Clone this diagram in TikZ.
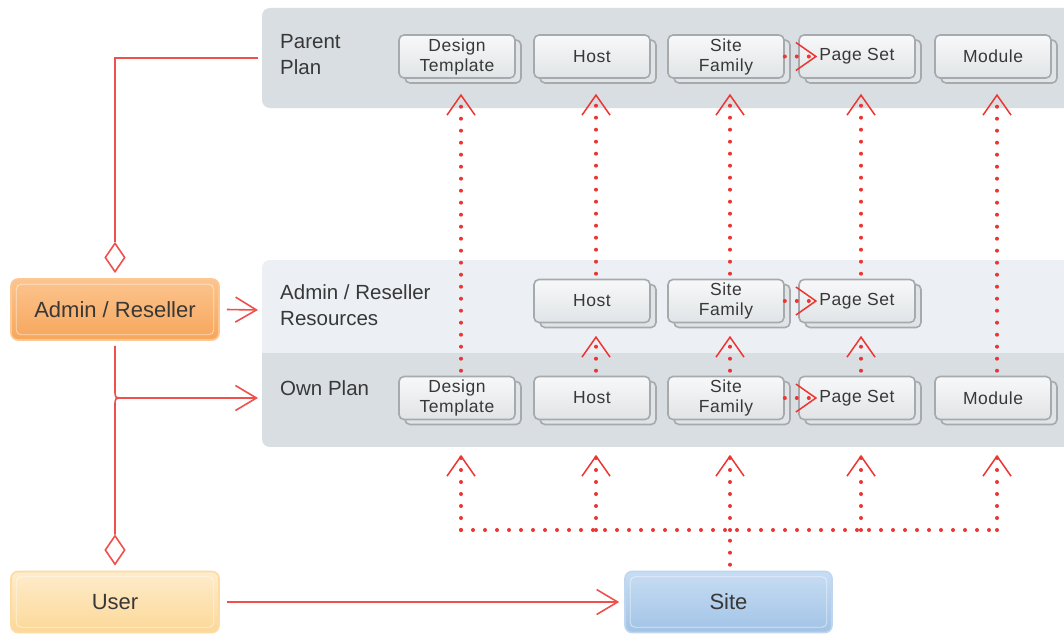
\documentclass[tikz,border=0pt]{standalone}
\usepackage{fontspec}
\setmainfont{Liberation Sans}
\usetikzlibrary{arrows.meta,shapes.geometric,calc}
\definecolor{bandA}{HTML}{D9DEE2}
\definecolor{bandB}{HTML}{ECF0F4}
\definecolor{tileline}{HTML}{A6AAAD}
\definecolor{tiletop}{HTML}{F7F8F9}
\definecolor{tilebot}{HTML}{E1E4E6}
\definecolor{redl}{HTML}{F0504C}
\definecolor{redd}{HTML}{EC3632}
\definecolor{txt}{HTML}{383838}
\definecolor{adminline}{HTML}{FBC893}
\definecolor{admintop}{HTML}{FCC48E}
\definecolor{adminbot}{HTML}{F7A65C}
\definecolor{userline}{HTML}{FDDCA4}
\definecolor{usertop}{HTML}{FEECCB}
\definecolor{userbot}{HTML}{FCD898}
\definecolor{siteline}{HTML}{BFD6EE}
\definecolor{sitetop}{HTML}{C7DDF3}
\definecolor{sitebot}{HTML}{A2C3E6}
\tikzset{
  tile/.style={draw=tileline, line width=1.6pt, rounded corners=5pt,
    top color=tiletop, bottom color=tilebot,
    minimum width=116pt, minimum height=43pt, inner sep=0pt, align=center,
    text=txt, font=\fontsize{17.5}{20}\selectfont\addfontfeature{LetterSpace=3}\color{txt!85},
    preaction={draw=tileline, line width=1.6pt, fill=tilebot,
      transform canvas={shift={(6pt,-5pt)}}}},
  bandlabel/.style={anchor=west, align=left, inner sep=0pt, text=txt,
    font=\fontsize{20.5}{26}\selectfont},
  actor/.style={rounded corners=7pt, minimum width=208pt, minimum height=61pt,
    inner sep=0pt, line width=1.6pt, text=txt, font=\fontsize{22}{26}\selectfont},
  inner/.style={draw=white, draw opacity=0.55, line width=0.8pt, rounded corners=5pt},
  redline/.style={draw=redl, line width=1.6pt},
  redarrow/.style={redline, -{Straight Barb[length=21pt 0 0, width=25pt 0 0, line width=1.6pt 0 0]}},
  dotline/.style={draw=redd, line width=4pt, line cap=round, dash pattern=on 0pt off 12pt},
  dotarrow/.style={dotline, -{Straight Barb[length=20pt 0 0, width=28pt 0 0, line width=1.5pt 0 0]}},
  hole/.style={diamond, draw=redl, line width=1.6pt, fill=white, minimum width=20pt,
    minimum height=29pt, inner sep=0pt}
}
\begin{document}
\begin{tikzpicture}[x=1pt,y=-1pt]
\useasboundingbox (0,0) rectangle (1064,634);
\fill[white] (0,0) rectangle (1064,634);
% bands
\fill[bandA, rounded corners=8pt] (262,8) rectangle (1090,108);
\begin{scope}
  \clip[rounded corners=8pt] (262,260) rectangle (1090,447);
  \fill[bandB] (262,260) rectangle (1090,353);
  \fill[bandA] (262,353) rectangle (1090,447);
\end{scope}
\node[bandlabel] (lpar) at (280,55) {Parent\\Plan};
\node[bandlabel] (lres) at (280,305) {Admin / Reseller\\Resources};
\node[bandlabel] (lown) at (280,388) {Own Plan};
\coordinate (ppIn) at (258,58);
\coordinate (resIn) at (258,310);
\coordinate (ownIn) at (258,398);
% tiles: parent row
\node[tile] (p1) at (457,56.5) {Design\\Template};
\node[tile] (p2) at (592,56.5) {Host};
\node[tile] (p3) at (726,56.5) {Site\\Family};
\node[tile] (p4) at (857,56.5) {Page Set};
\node[tile] (p5) at (993,56.5) {Module};
% middle row
\node[tile] (m2) at (592,301) {Host};
\node[tile] (m3) at (726,301) {Site\\Family};
\node[tile] (m4) at (857,301) {Page Set};
% own row
\node[tile] (o1) at (457,398) {Design\\Template};
\node[tile] (o2) at (592,398) {Host};
\node[tile] (o3) at (726,398) {Site\\Family};
\node[tile] (o4) at (857,398) {Page Set};
\node[tile] (o5) at (993,398) {Module};
% actors
\node[actor, draw=adminline, top color=admintop, bottom color=adminbot] (admin) at (115,309.5) {Admin / Reseller};
\node[actor, draw=userline, top color=usertop, bottom color=userbot] (user) at (115,602) {User};
\node[actor, draw=siteline, top color=sitetop, bottom color=sitebot, minimum width=207pt] (site) at (728.5,602) {Site};
\foreach \n in {admin,user,site}{
  \draw[inner] ([shift={(6pt,-6pt)}]\n.north west) rectangle ([shift={(-6pt,6pt)}]\n.south east);
}
% diamonds
\node[hole] (dA) at (115,257.5) {};
\node[hole] (dU) at (115,550) {};
% solid connectors
\coordinate (jn) at (115,398);
\draw[redline] (ppIn) -| (dA.north);
\draw[redarrow] ([xshift=7pt]admin.east) -- (resIn);
\draw[redarrow] ([yshift=-5pt]admin.south) -- ([yshift=8pt]jn) .. controls (jn) .. ([xshift=8pt]jn) -- (ownIn);
\draw[redline] ([xshift=8pt]jn) .. controls (jn) .. ([yshift=-8pt]jn) -- (dU.north);
\draw[redarrow] ([xshift=7pt]user.east) -- ([xshift=-5pt]site.west);
% dotted: own -> parent
\draw[dotarrow] ([xshift=4pt,yshift=5pt]o1.north) -- ([xshift=4pt,yshift=-15pt]p1.south);
\draw[dotarrow] ([xshift=4pt,yshift=5pt]o5.north) -- ([xshift=4pt,yshift=-15pt]p5.south);
\foreach \i in {2,3,4}{
  \draw[dotarrow] ([xshift=4pt,yshift=5pt]m\i.north) -- ([xshift=4pt,yshift=-15pt]p\i.south);
  \draw[dotarrow] ([xshift=4pt,yshift=5pt]o\i.north) -- ([xshift=4pt,yshift=-12.5pt]m\i.south);
}
% dotted: site family -> page set
\draw[dotarrow] (p3.east) -- ([xshift=19pt]p4.west);
\draw[dotarrow] (m3.east) -- ([xshift=19pt]m4.west);
\draw[dotarrow] (o3.east) -- ([xshift=19pt]o4.west);
% dotted: site -> own plan
\coordinate (hub) at (730,530);
\coordinate (b1) at (461,530);
\coordinate (b2) at (596,530);
\coordinate (b4) at (861,530);
\coordinate (b5) at (997,530);
\draw[dotline] ([xshift=1.5pt,yshift=6pt]site.north) -- (hub);
\draw[dotline] (b1) -- (b5);
\draw[dotarrow] (b1) -- ([xshift=4pt,yshift=-34.5pt]o1.south);
\draw[dotarrow] (b2) -- ([xshift=4pt,yshift=-34.5pt]o2.south);
\draw[dotarrow] (hub) -- ([xshift=4pt,yshift=-34.5pt]o3.south);
\draw[dotarrow] (b4) -- ([xshift=4pt,yshift=-34.5pt]o4.south);
\draw[dotarrow] (b5) -- ([xshift=4pt,yshift=-34.5pt]o5.south);
\end{tikzpicture}
\end{document}
